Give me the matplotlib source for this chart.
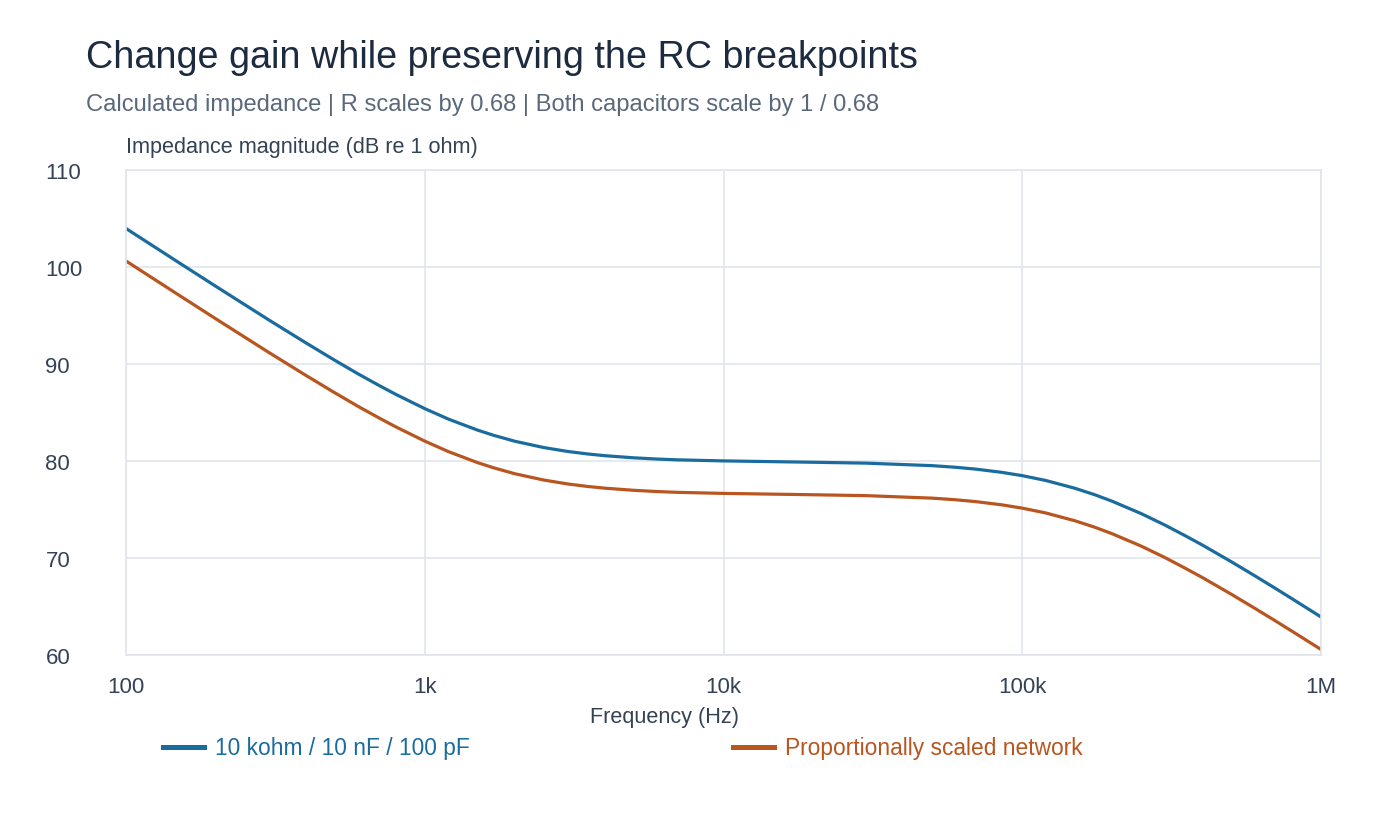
import matplotlib
matplotlib.use("Agg")
import matplotlib.pyplot as plt
from matplotlib.ticker import FixedLocator, NullLocator

# values
freq_hz = [100, 150, 200, 300, 400, 500, 600, 700, 800, 1000, 1200, 1500, 1700, 2000,
           2500, 3000, 3500, 4000, 5000, 6000, 7000, 10000, 20000, 30000, 50000, 60000,
           70000, 85000, 100000, 120000, 150000, 175000, 200000, 250000, 300000,
           350000, 400000, 500000, 600000, 700000, 800000, 1000000]
base_db = [103.97, 100.47, 98.00, 94.56, 92.18, 90.38, 88.96, 87.82, 86.87, 85.40,
           84.32, 83.19, 82.65, 82.04, 81.39, 80.99, 80.73, 80.55, 80.33, 80.20,
           80.12, 80.01, 79.87, 79.78, 79.52, 79.35, 79.16, 78.84, 78.49, 77.99,
           77.19, 76.52, 75.85, 74.58, 73.40, 72.32, 71.35, 69.63, 68.17, 66.91,
           65.80, 63.92]
scaled_db = [100.62, 97.12, 94.65, 91.21, 88.83, 87.03, 85.61, 84.47, 83.52, 82.05,
             80.97, 79.84, 79.30, 78.69, 78.04, 77.64, 77.38, 77.20, 76.98, 76.85,
             76.77, 76.66, 76.52, 76.43, 76.17, 76.00, 75.81, 75.49, 75.14, 74.64,
             73.84, 73.17, 72.50, 71.23, 70.05, 68.97, 68.00, 66.28, 64.82, 63.56,
             62.45, 60.57]

x_ticks = [100, 1000, 10000, 100000, 1000000]
x_tick_labels = ["100", "1k", "10k", "100k", "1M"]
y_ticks = [60, 70, 80, 90, 100, 110]

series_names = ["10 kohm / 10 nF / 100 pF", "Proportionally scaled network"]
blue = "#1a6c9f"
orange = "#b9551f"
grid_c = "#e1e5eb"
tick_c = "#344256"

plt.rcParams["font.family"] = ["Liberation Sans", "DejaVu Sans"]

fig = plt.figure(figsize=(14, 8.2), dpi=100)
ax = fig.add_axes([126 / 1400, 1 - 656 / 820, (1321 - 126) / 1400, (656 - 171) / 820])

l1, = ax.plot(freq_hz, base_db, color=blue, lw=2.3, label=series_names[0])
l2, = ax.plot(freq_hz, scaled_db, color=orange, lw=2.3, label=series_names[1])

ax.set_xscale("log")
ax.set_xlim(100, 1000000)
ax.set_ylim(60, 110)
ax.xaxis.set_major_locator(FixedLocator(x_ticks))
ax.xaxis.set_minor_locator(NullLocator())
ax.set_xticklabels(x_tick_labels)
ax.set_yticks(y_ticks)

ax.grid(True, color=grid_c, lw=1.2)
ax.set_axisbelow(True)
for s in ax.spines.values():
    s.set_color(grid_c)
    s.set_linewidth(1.2)

ax.tick_params(axis="both", length=0, labelsize=16, colors=tick_c)
ax.tick_params(axis="x", pad=15)
ax.tick_params(axis="y", pad=58)
for lab in ax.get_yticklabels():
    lab.set_horizontalalignment("left")

ax.set_xlabel("Frequency (Hz)", fontsize=15.6, color=tick_c)
ax.xaxis.set_label_coords((665 - 126) / 1195, -0.106)

fig.text(126 / 1400, 1 - 148 / 820, "Impedance magnitude (dB re 1 ohm)", fontsize=15.6,
         color=tick_c, va="center", ha="left")
fig.text(86 / 1400, 1 - 58 / 820, "Change gain while preserving the RC breakpoints",
         fontsize=27.2, color="#1c2b3f", va="center", ha="left")
fig.text(86 / 1400, 1 - 105 / 820,
         "Calculated impedance | R scales by 0.68 | Both capacitors scale by 1 / 0.68",
         fontsize=17.1, color="#5a687b", va="center", ha="left")

leg1 = fig.legend(handles=[l1], loc="center left", bbox_to_anchor=(142 / 1400, 1 - 749 / 820),
                  frameon=False, fontsize=16.4, labelcolor="linecolor",
                  handlelength=1.8, handletextpad=0.5)
leg2 = fig.legend(handles=[l2], loc="center left", bbox_to_anchor=(712 / 1400, 1 - 749 / 820),
                  frameon=False, fontsize=16.4, labelcolor="linecolor",
                  handlelength=1.8, handletextpad=0.5)
for lg in (leg1, leg2):
    for h in lg.legend_handles:
        h.set_linewidth(3.6)

fig.savefig("out.png", dpi=100)
